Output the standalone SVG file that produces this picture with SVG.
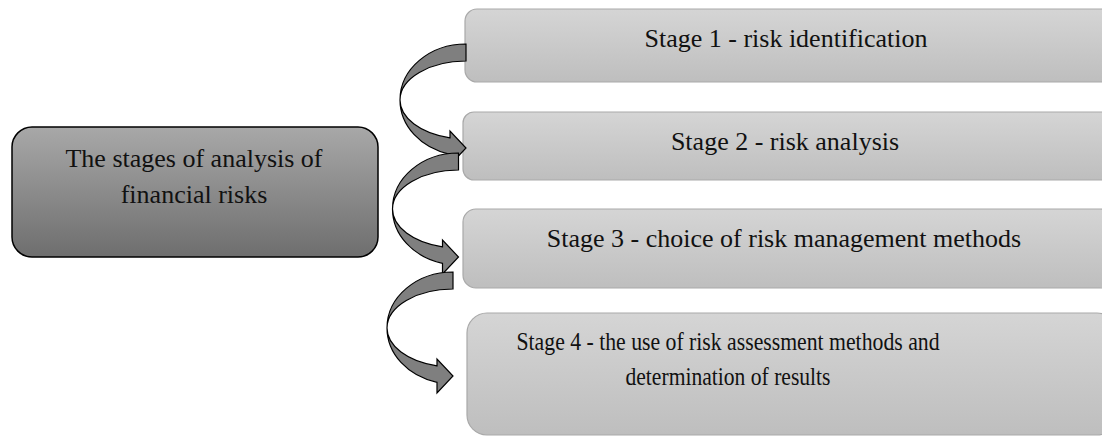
<svg xmlns="http://www.w3.org/2000/svg" width="1102" height="436" viewBox="0 0 1102 436">
<defs>
<linearGradient id="gLight" x1="0" y1="0" x2="0" y2="1">
<stop offset="0" stop-color="#d5d5d5"/>
<stop offset="1" stop-color="#bebebe"/>
</linearGradient>
<linearGradient id="gDark" x1="0" y1="0" x2="0" y2="1">
<stop offset="0" stop-color="#a8a8a8"/>
<stop offset="1" stop-color="#6e6e6e"/>
</linearGradient>
</defs>
<style>
.stage{fill:url(#gLight);stroke:#a9a9a9;stroke-width:1.2}
.main{fill:url(#gDark);stroke:#000;stroke-width:1.5}
.t{font-family:"Liberation Serif","Times New Roman",serif;font-size:26px;fill:#111;text-anchor:middle}
.arr{fill:#7f7f7f;stroke:#000;stroke-width:1.2;stroke-linejoin:miter}
</style>
<g id="main">
<rect class="main" x="12" y="127" width="366" height="130" rx="20"/>
<text class="t" x="194" y="167">The stages of analysis of</text>
<text class="t" x="194" y="203">financial risks</text>
</g>
<g id="stage1">
<rect class="stage" x="465" y="9" width="650" height="73" rx="12"/>
<text class="t" x="786" y="47">Stage 1 - risk identification</text>
</g>
<g id="stage2">
<rect class="stage" x="463" y="112" width="650" height="68" rx="11"/>
<text class="t" x="785" y="150">Stage 2 - risk analysis</text>
</g>
<g id="stage3">
<rect class="stage" x="463" y="209" width="650" height="79" rx="13"/>
<text class="t" x="784" y="247">Stage 3 - choice of risk management methods</text>
</g>
<g id="stage4">
<rect class="stage" x="467" y="313" width="650" height="122" rx="20"/>
<text class="t" x="728" y="350" textLength="423" lengthAdjust="spacingAndGlyphs">Stage 4 - the use of risk assessment methods and</text>
<text class="t" x="728" y="385" textLength="205" lengthAdjust="spacingAndGlyphs">determination of results</text>
</g>
<g id="connectors">
<path class="arr" transform="translate(466,100)" d="M0,-56 A66,56 0 0 0 -66,0 A66,56 0 0 0 -16,54.3 L-16,65 L0,48 L-16,31 L-16,37.8 A66,39 0 0 1 -66,0 A66,39 0 0 1 0,-39 Z"/>
<path class="arr" transform="translate(458.5,209)" d="M0,-56 A66,56 0 0 0 -66,0 A66,56 0 0 0 -16,54.3 L-16,65 L0,48 L-16,31 L-16,37.8 A66,39 0 0 1 -66,0 A66,39 0 0 1 0,-39 Z"/>
<path class="arr" transform="translate(453,328)" d="M0,-56 A66,56 0 0 0 -66,0 A66,56 0 0 0 -16,54.3 L-16,65 L0,48 L-16,31 L-16,37.8 A66,39 0 0 1 -66,0 A66,39 0 0 1 0,-39 Z"/>
</g>
</svg>
